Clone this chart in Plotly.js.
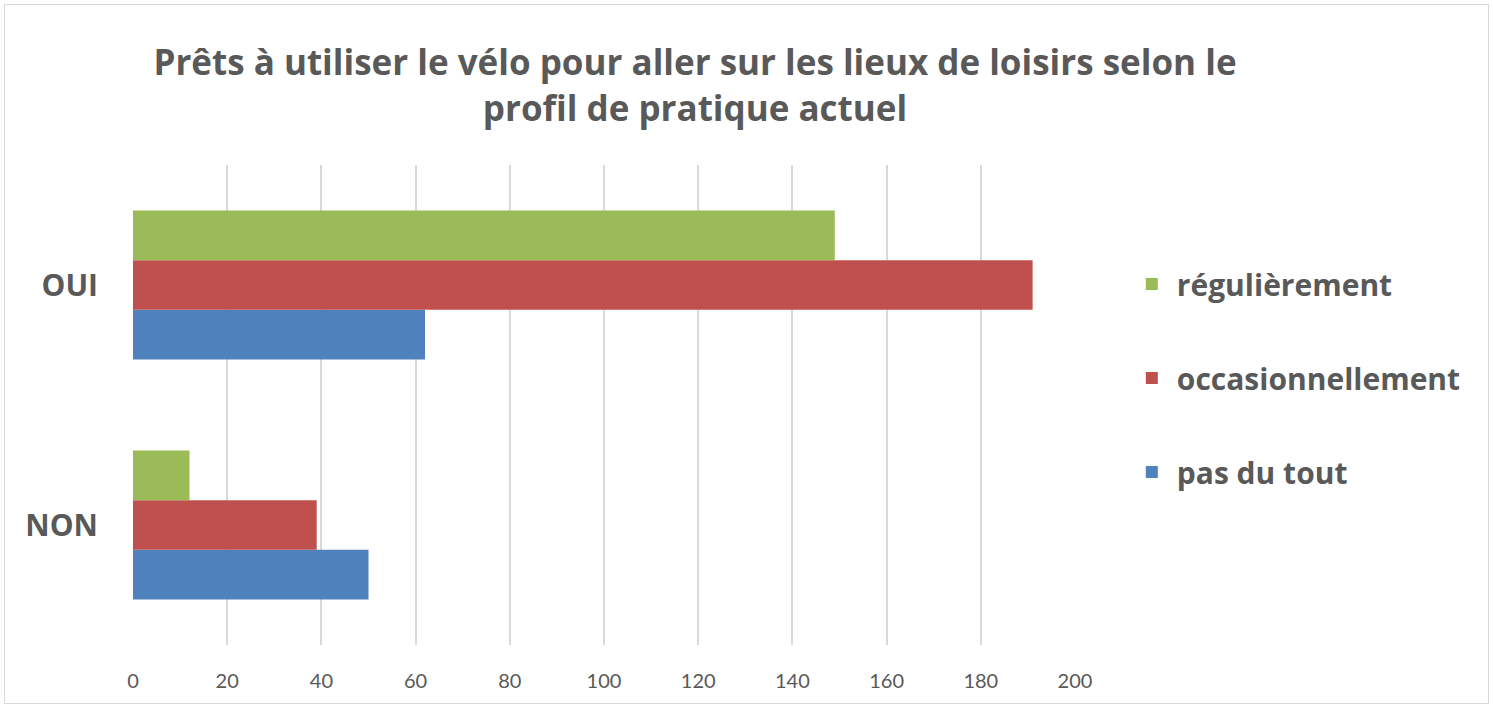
<!DOCTYPE html>
<html>
<head>
<meta charset="utf-8">
<script src="https://cdn.plot.ly/plotly-3.0.1.min.js"></script>
<style>
html,body{margin:0;padding:0;background:#fff;}
#chart{width:1493px;height:708px;}
#frame{position:absolute;left:4px;top:4px;width:1485px;height:700px;border:1px solid #d9d9d9;pointer-events:none;box-sizing:border-box;}
</style>
</head>
<body>
<div id="chart"></div>
<div id="frame"></div>
<script>
const categories = ['NON', 'OUI'];
const seriesNames = ['pas du tout', 'occasionnellement', 'régulièrement'];
const pasDuTout = [50, 62];
const occasionnellement = [39, 191];
const regulierement = [12, 149];
const xTicks = [0, 20, 40, 60, 80, 100, 120, 140, 160, 180, 200];
const colors = ['#4F81BD', '#C0504D', '#9BBB59'];
const values = [pasDuTout, occasionnellement, regulierement];

const traces = values.map((v, i) => ({
  type: 'bar',
  orientation: 'h',
  name: seriesNames[i],
  legendgroup: 'g' + i,
  legendrank: 3 - i,
  x: v,
  y: categories,
  marker: {color: colors[i]},
  hoverinfo: 'x+name'
}));

const mainFont = '"Open Sans", "Noto Sans", sans-serif';

const layout = {
  width: 1493,
  height: 708,
  paper_bgcolor: '#ffffff',
  plot_bgcolor: '#ffffff',
  font: {family: mainFont, color: '#595959'},
  title: {
    text: '<b>Prêts à utiliser le vélo pour aller sur les lieux de loisirs selon le<br>profil de pratique actuel</b>',
    x: 695 / 1493,
    xanchor: 'center',
    xref: 'container',
    y: 1 - 75 / 708,
    yanchor: 'middle',
    yref: 'container',
    font: {size: 35, color: '#595959', family: mainFont}
  },
  margin: {l: 133, r: 418, t: 165, b: 63, pad: 0},
  barmode: 'group',
  bargap: 0.38,
  bargroupgap: 0,
  xaxis: {
    range: [0, 200],
    tickvals: xTicks,
    ticktext: xTicks.map(String),
    showgrid: true,
    gridcolor: '#d9d9d9',
    gridwidth: 2,
    zeroline: false,
    showline: false,
    ticks: '',
    ticklabelstandoff: 22,
    tickfont: {size: 20, color: '#595959', family: 'Lato, sans-serif'},
    fixedrange: true
  },
  yaxis: {
    type: 'category',
    categoryorder: 'array',
    categoryarray: categories,
    showgrid: false,
    zeroline: false,
    showline: false,
    ticks: '',
    ticklabelstandoff: 34,
    tickfont: {size: 30, color: '#595959', family: mainFont, weight: 'bold'},
    fixedrange: true
  },
  showlegend: true,
  legend: {
    x: 1.055,
    xanchor: 'left',
    y: 0.5 + 27 / 480,
    yanchor: 'middle',
    traceorder: 'grouped',
    tracegroupgap: 52,
    font: {size: 30, color: '#595959', family: mainFont, weight: 'bold'},
    itemwidth: 40,
    bgcolor: 'rgba(0,0,0,0)'
  }
};

Plotly.newPlot('chart', traces, layout, {displayModeBar: false, staticPlot: true});
</script>
</body>
</html>
